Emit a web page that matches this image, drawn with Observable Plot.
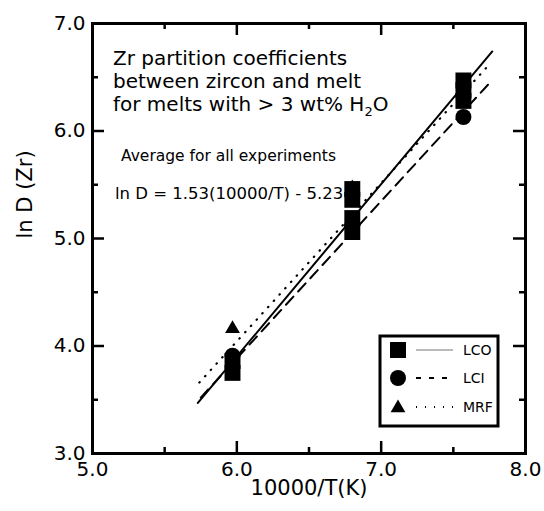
<!DOCTYPE html>
<html><head><meta charset="utf-8">
<script src="https://cdn.jsdelivr.net/npm/d3@7"></script>
<script src="https://cdn.jsdelivr.net/npm/@observablehq/plot@0.6"></script>
<style>
body{margin:0;background:#fff;font-family:"DejaVu Sans",sans-serif;}
#wrap{position:relative;width:544px;height:511px;overflow:hidden;}
.ann{position:absolute;color:#000;white-space:nowrap;}
.ann sub{font-size:13px;vertical-align:-5px;line-height:0;}
#legend{position:absolute;left:0;top:0;pointer-events:none;}
</style></head><body><div id="wrap"></div>
<script>
// tick values and labels
const xTicks = [5, 6, 7, 8];
const xTickLabels = ["5.0", "6.0", "7.0", "8.0"];
const xMinor = [5.5, 6.5, 7.5];
const yTicks = [3, 4, 5, 6, 7];
const yTickLabels = ["3.0", "4.0", "5.0", "6.0", "7.0"];
const yMinor = [3.5, 4.5, 5.5, 6.5];

// series: LCO (squares), LCI (circles), MRF (triangles)
const lcoX = [5.97, 5.97, 6.8, 6.8, 6.8, 6.8, 7.57, 7.57, 7.57];
const lcoY = [3.75, 3.86, 5.06, 5.19, 5.36, 5.46, 6.28, 6.38, 6.47];
const lciX = [5.97, 6.8, 7.57];
const lciY = [3.91, 5.12, 6.13];
const mrfX = [5.97, 6.8, 7.57];
const mrfY = [4.16, 5.47, 6.36];

// regression lines (endpoints)
const fitLcoX = [5.73, 7.77];
const fitLcoY = [3.47, 6.74];
const fitLciX = [5.75, 7.74];
const fitLciY = [3.52, 6.43];
const fitMrfX = [5.74, 7.75];
const fitMrfY = [3.66, 6.62];

const seriesNames = ["LCO", "LCI", "MRF"];

const toRows = (xs, ys) => xs.map((x, i) => ({x, y: ys[i]}));
const fmtX = d => xTickLabels[xTicks.indexOf(d)];
const fmtY = d => yTickLabels[yTicks.indexOf(d)];
const font = "'DejaVu Sans', sans-serif";

const xDomain = [5, 8], yDomain = [3, 7];
const W = 544, H = 511, mL = 92, mR = 19, mT = 23, mB = 58;
const innerW = W - mL - mR, innerH = H - mT - mB;
const major = 12, minor = 6;
const tk = {stroke: "#000", strokeWidth: 2.5};

const chart = Plot.plot({
  width: W, height: H,
  marginLeft: mL, marginRight: mR, marginTop: mT, marginBottom: mB,
  x: {domain: xDomain},
  y: {domain: yDomain},
  style: {fontFamily: font, fontSize: "20px", color: "#000", background: "#fff"},
  marks: [
    Plot.line(toRows(fitLcoX, fitLcoY), {x: "x", y: "y", stroke: "#000", strokeWidth: 2}),
    Plot.line(toRows(fitLciX, fitLciY), {x: "x", y: "y", stroke: "#000", strokeWidth: 2, strokeDasharray: "11,7"}),
    Plot.line(toRows(fitMrfX, fitMrfY), {x: "x", y: "y", stroke: "#000", strokeWidth: 2.2, strokeDasharray: "0.5,8", strokeLinecap: "round"}),
    Plot.dot(toRows(mrfX, mrfY), {x: "x", y: "y", symbol: "triangle", r: 5.5, fill: "#000", stroke: "none"}),
    Plot.dot(toRows(lciX, lciY), {x: "x", y: "y", symbol: "circle", r: 8, fill: "#000", stroke: "none"}),
    Plot.dot(toRows(lcoX, lcoY), {x: "x", y: "y", symbol: "square", r: 9, fill: "#000", stroke: "none"}),
    // inward ticks on all four sides
    Plot.tickX(xTicks, {x: d => d, insetTop: innerH - major, ...tk}),
    Plot.tickX(xMinor, {x: d => d, insetTop: innerH - minor, ...tk}),
    Plot.tickX(xTicks, {x: d => d, insetBottom: innerH - major, ...tk}),
    Plot.tickX(xMinor, {x: d => d, insetBottom: innerH - minor, ...tk}),
    Plot.tickY(yTicks, {y: d => d, insetRight: innerW - major, ...tk}),
    Plot.tickY(yMinor, {y: d => d, insetRight: innerW - minor, ...tk}),
    Plot.tickY(yTicks, {y: d => d, insetLeft: innerW - major, ...tk}),
    Plot.tickY(yMinor, {y: d => d, insetLeft: innerW - minor, ...tk}),
    Plot.axisX(xTicks, {anchor: "bottom", tickSize: 0, tickPadding: 8, tickFormat: fmtX, label: null, fontSize: 20}),
    Plot.axisY(yTicks, {anchor: "left", tickSize: 0, tickPadding: 7, tickFormat: fmtY, label: null, fontSize: 20}),
    Plot.frame({stroke: "#000", strokeWidth: 3}),
    Plot.text(["10000/T(K)"], {frameAnchor: "bottom", dy: 41, fontSize: 21, fill: "#000"}),
    Plot.text(["ln D (Zr)"], {frameAnchor: "left", dx: -67, rotate: -90, fontSize: 21, fill: "#000"})
  ]
});

const wrap = document.getElementById("wrap");
wrap.appendChild(chart);

// annotation texts
function ann(html, left, baseline, size, lh) {
  const d = document.createElement("div");
  d.className = "ann";
  const L = lh || size * 1.164;
  d.style.left = left + "px";
  d.style.top = (baseline - ((L - 1.164 * size) / 2 + 0.928 * size)) + "px";
  d.style.fontSize = size + "px";
  d.style.lineHeight = L + "px";
  d.innerHTML = html;
  wrap.appendChild(d);
}
ann("Zr partition coefficients<br>between zircon and melt<br>for melts with &gt; 3 wt% H<sub>2</sub>O", 113, 65, 20, 23);
ann("Average for all experiments", 121, 161, 15.5);
ann("ln D = 1.53(10000/T) - 5.23", 115, 199, 16.5);

// legend
const svg = d3.select(wrap).append("svg").attr("id", "legend").attr("width", W).attr("height", H);
const lg = svg.append("g").attr("transform", "translate(380,336)");
lg.append("rect").attr("x", 0).attr("y", 0).attr("width", 118).attr("height", 90)
  .attr("fill", "#fff").attr("stroke", "#000").attr("stroke-width", 3);
const rowY = [14, 42, 71];
const syms = [d3.symbolSquare, d3.symbolCircle, d3.symbolTriangle];
const symSize = [Math.PI * 81, Math.PI * 64, Math.PI * 30];
const dashes = [null, "5,8", "1,8"];
seriesNames.forEach((name, i) => {
  lg.append("path").attr("d", d3.symbol(syms[i], symSize[i])())
    .attr("transform", `translate(18,${rowY[i] + (i === 2 ? 1 : 0)})`).attr("fill", "#000");
  const ln = lg.append("line").attr("x1", 36).attr("x2", 73).attr("y1", rowY[i]).attr("y2", rowY[i])
    .attr("stroke", i === 0 ? "#777" : "#000").attr("stroke-width", i === 0 ? 1.2 : 1.8);
  if (dashes[i]) ln.attr("stroke-dasharray", dashes[i]);
  lg.append("text").attr("x", 83).attr("y", rowY[i]).attr("dy", "0.36em")
    .attr("font-family", "'DejaVu Sans', sans-serif").attr("font-size", 14).attr("fill", "#000").text(name);
});
</script>
</body></html>
